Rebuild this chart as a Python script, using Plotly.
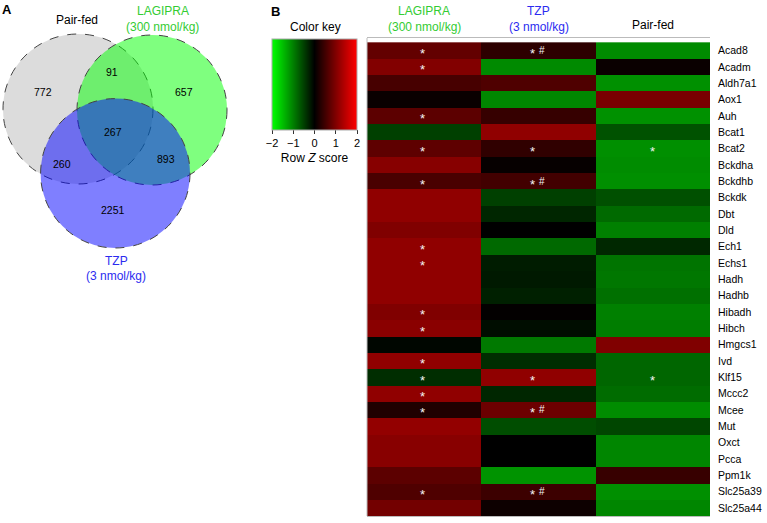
import plotly.graph_objects as go

# ---------------- data ----------------
genes = ["Acad8", "Acadm", "Aldh7a1", "Aox1", "Auh", "Bcat1", "Bcat2", "Bckdha", "Bckdhb",
         "Bckdk", "Dbt", "Dld", "Ech1", "Echs1", "Hadh", "Hadhb", "Hibadh", "Hibch",
         "Hmgcs1", "Ivd", "Klf15", "Mccc2", "Mcee", "Mut", "Oxct", "Pcca", "Ppm1k",
         "Slc25a39", "Slc25a44"]
groups = ["LAGIPRA", "TZP", "Pair-fed"]

lag_z = [0.78, 1.02, 0.56, 0.08, 0.72, -0.5, 0.74, 1.06, 0.57, 1.13, 1.13, 1.0, 1.13, 1.13,
         1.13, 1.13, 1.0, 1.08, -0.05, 1.13, -0.35, 1.13, 0.25, 1.15, 1.07, 1.07, 0.72, 0.62, 0.9]
tzp_z = [0.35, -1.08, 0.62, -1.06, 0.42, 1.13, 0.38, 0.05, 0.52, -0.5, -0.3, 0.0, -0.82, -0.22,
         -0.2, -0.25, 0.02, -0.1, -0.95, -0.35, 1.13, -0.3, 0.85, -0.6, 0.0, 0.0, -1.15, 0.47, 0.1]
pf_z = [-1.09, 0.08, -1.13, 0.95, -1.14, -0.64, -1.12, -1.1, -1.12, -0.63, -0.83, -1.0, -0.31,
        -0.91, -0.93, -0.88, -1.0, -0.98, 1.0, -0.8, -0.8, -0.85, -1.1, -0.55, -1.05, -1.05,
        0.43, -1.12, -1.05]

lag_sig = ["Acad8", "Acadm", "Auh", "Bcat2", "Bckdhb", "Ech1", "Echs1", "Hibadh", "Hibch",
           "Ivd", "Klf15", "Mccc2", "Mcee", "Slc25a39"]
tzp_sig = ["Acad8", "Bcat2", "Bckdhb", "Klf15", "Mcee", "Slc25a39"]
tzp_hash = ["Acad8", "Bckdhb", "Mcee", "Slc25a39"]
pf_sig = ["Bcat2", "Klf15"]

venn_names = ["Pair-fed", "LAGIPRA", "TZP"]
venn_regions = ["PF only", "PF&LAG", "LAG only", "all", "PF&TZP", "LAG&TZP", "TZP only"]
venn_counts = [772, 91, 657, 267, 260, 893, 2251]

# ---------------- layout geometry (pixels) ----------------
W, H = 767, 523
circles = [  # cx, cy, r, fill
    (78, 109, 75, "rgba(185,185,185,0.5)"),
    (152, 110, 75, "rgba(0,255,0,0.5)"),
    (115.3, 173.3, 74.7, "rgba(0,0,255,0.5)"),
]
region_pos = [(43, 92), (112, 72), (184, 92), (113, 132), (62, 164), (166, 159), (113, 210)]

GREEN_TXT = "#33cc33"
BLUE_TXT = "#2b2bf0"
FONT = "Liberation Sans, Arial, sans-serif"

hm_left, hm_right, hm_top, hm_bottom = 367, 710, 38, 516

fig = go.Figure()

z = [list(r) for r in zip(lag_z, tzp_z, pf_z)]
fig.add_trace(go.Heatmap(
    z=z, x=groups, y=genes, xaxis="x2", yaxis="y2",
    zmin=-2, zmax=2,
    colorscale=[[0, "#00ff00"], [0.5, "#000000"], [1, "#ff0000"]],
    hoverinfo="skip",
    colorbar=dict(
        orientation="h", thicknessmode="pixels", thickness=91,
        lenmode="pixels", len=85,
        x=314.5 / W, xanchor="center", y=1 - 39 / H, yanchor="top",
        xpad=0, ypad=0,
        outlinewidth=1, outlinecolor="#aaaaaa",
        tickvals=[-2, -1, 0, 1, 2], ticktext=["\u22122", "\u22121", "0", "1", "2"],
        ticks="outside", ticklen=4, tickcolor="#333",
        tickfont=dict(size=11, color="black", family=FONT),
        title=dict(text="Row <i>Z</i> score", side="bottom",
                   font=dict(size=12, color="black", family=FONT)),
    ),
))

shapes = []
for cx, cy, r, fill in circles:
    shapes.append(dict(type="circle", xref="x", yref="y",
                       x0=cx - r, x1=cx + r, y0=cy - r, y1=cy + r,
                       fillcolor=fill, line=dict(color="#444444", width=1, dash="dash"),
                       layer="below"))
# light frame on left of heatmap
shapes.append(dict(type="line", xref="x2 domain", yref="y2 domain", x0=0, x1=0, y0=0, y1=1,
                   line=dict(color="#bbbbbb", width=1)))

ann = []
ann.append(dict(x=6.5, y=9, text="<b>A</b>", font=dict(size=13, family=FONT, color="black")))
ann.append(dict(x=275, y=11, text="<b>B</b>", font=dict(size=13, family=FONT, color="black")))
ann.append(dict(x=76.5, y=20, text=venn_names[0], font=dict(size=12, family=FONT, color="black")))
ann.append(dict(x=163, y=10.5, text=venn_names[1], font=dict(size=12, family=FONT, color=GREEN_TXT)))
ann.append(dict(x=162, y=26.5, text="(300 nmol/kg)", font=dict(size=12, family=FONT, color=GREEN_TXT)))
ann.append(dict(x=116, y=260.5, text=venn_names[2], font=dict(size=12, family=FONT, color=BLUE_TXT)))
ann.append(dict(x=116, y=275.5, text="(3 nmol/kg)", font=dict(size=12, family=FONT, color=BLUE_TXT)))
for (px, py), c in zip(region_pos, venn_counts):
    ann.append(dict(x=px, y=py, text=str(c), font=dict(size=10.5, family=FONT, color="black")))
ann.append(dict(x=315.5, y=26.5, text="Color key", font=dict(size=12, family=FONT, color="black")))
for a in ann:
    a.update(xref="x", yref="y", showarrow=False, xanchor="center", yanchor="middle")

# column headers
hdr = [
    dict(x=groups[0], y=10.8, text="LAGIPRA", color=GREEN_TXT),
    dict(x=groups[0], y=26.7, text="(300 nmol/kg)", color=GREEN_TXT),
    dict(x=groups[1], y=10.8, text="TZP", color=BLUE_TXT),
    dict(x=groups[1], y=26.7, text="(3 nmol/kg)", color=BLUE_TXT),
    dict(x=groups[2], y=24.7, text="Pair-fed", color="black"),
]
for h in hdr:
    ann.append(dict(xref="x2", yref="y", x=h["x"], y=h["y"], text=h["text"], showarrow=False,
                    xanchor="center", yanchor="middle",
                    font=dict(size=12, family=FONT, color=h["color"])))

# significance marks
def star(col, gene, text, xshift):
    return dict(xref="x2", yref="y2", x=col, y=gene, text=text, showarrow=False,
                xanchor="center", yanchor="middle", xshift=xshift, yshift=-3,
                font=dict(size=13, family=FONT, color="#f4f4f4"))

for g in lag_sig:
    ann.append(star(groups[0], g, "*", -2))
for g in tzp_sig:
    ann.append(star(groups[1], g, "*", -6))
for g in tzp_hash:
    ann.append(dict(xref="x2", yref="y2", x=groups[1], y=g, text="#", showarrow=False,
                    xanchor="center", yanchor="middle", xshift=3, yshift=0,
                    font=dict(size=10, family=FONT, color="#f4f4f4")))
for g in pf_sig:
    ann.append(star(groups[2], g, "*", 0))

fig.update_layout(
    width=W, height=H, margin=dict(l=0, r=0, t=0, b=0),
    paper_bgcolor="white", plot_bgcolor="rgba(0,0,0,0)",
    showlegend=False,
    font=dict(family=FONT, color="black"),
    xaxis=dict(domain=[0, 1], range=[0, W], visible=False, fixedrange=True),
    yaxis=dict(domain=[0, 1], range=[H, 0], visible=False, fixedrange=True),
    xaxis2=dict(domain=[hm_left / W, hm_right / W], anchor="y2", showticklabels=False,
                ticks="", showgrid=False, zeroline=False,
                showline=True, mirror=True, linecolor="#bbbbbb", linewidth=1),
    yaxis2=dict(domain=[1 - hm_bottom / H, 1 - hm_top / H], anchor="x2", side="right",
                autorange="reversed", showgrid=False, zeroline=False, ticks="",
                ticklabelstandoff=7,
                tickfont=dict(size=10.5, family=FONT, color="black")),
    shapes=shapes, annotations=ann,
)

fig.write_html("out.html", config={"displayModeBar": False},
               post_script="document.body.style.margin='0px';document.body.style.padding='0px';")
